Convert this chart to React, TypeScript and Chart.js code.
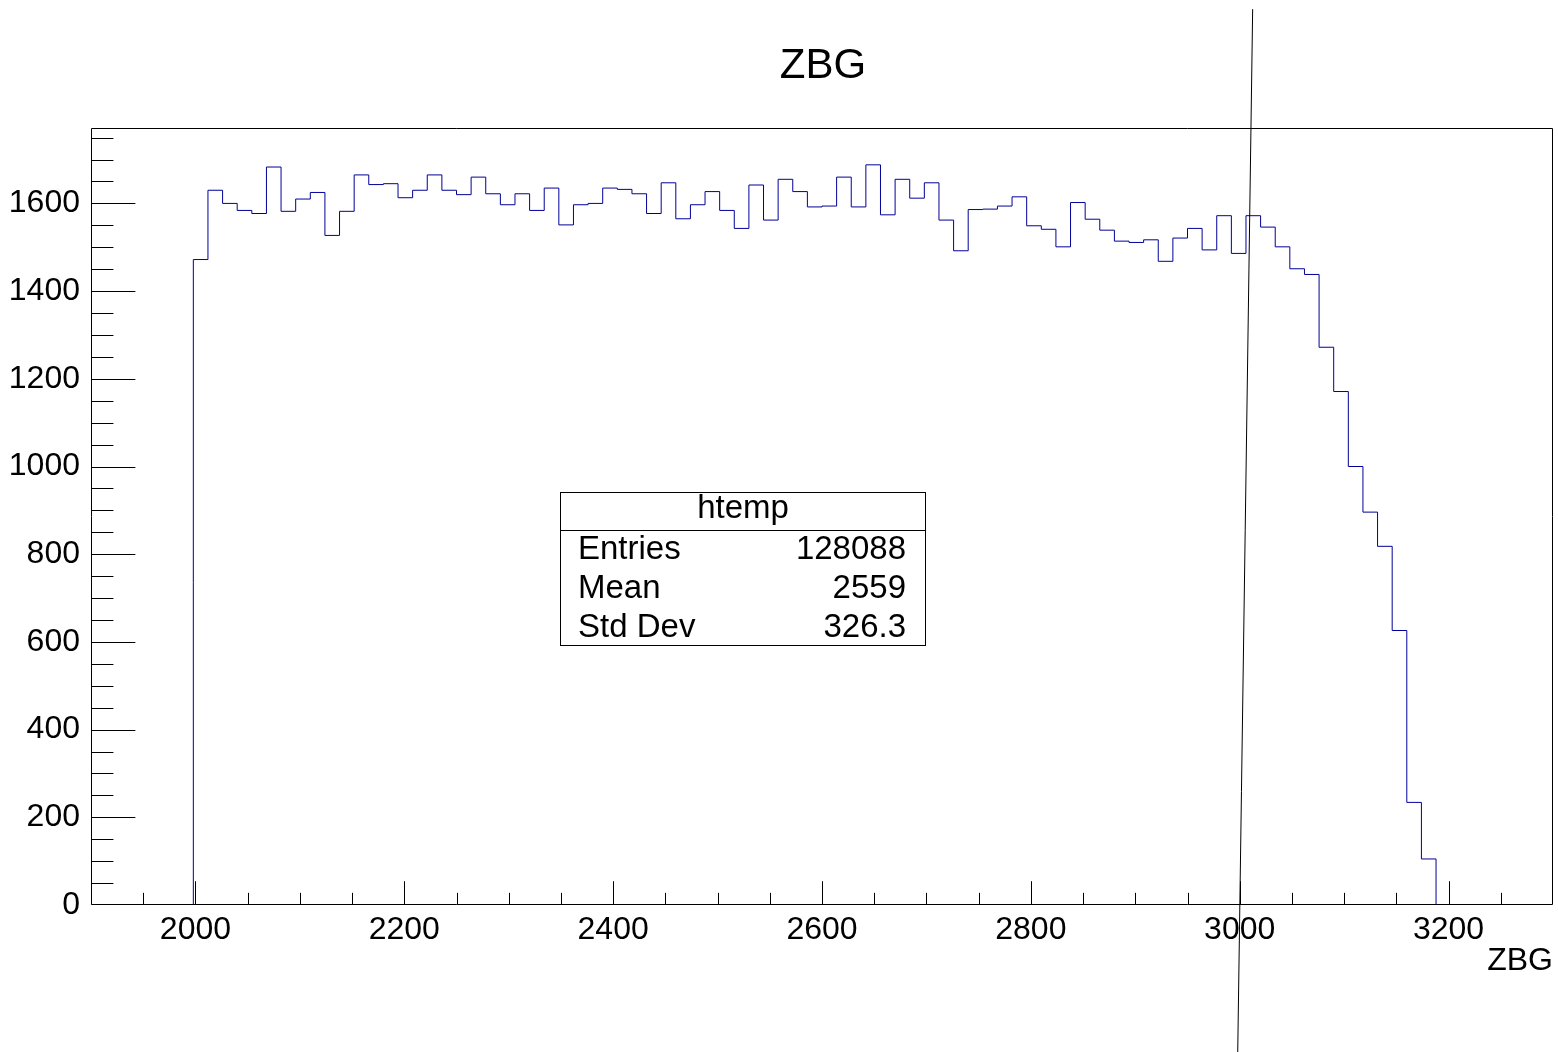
import React, { useEffect, useRef } from "react";
import { Chart, registerables } from "chart.js";

Chart.register(...registerables);

// ---- data ----
const histTitle = "ZBG";
const xAxisTitle = "ZBG";
const statsName = "htemp";
const statsLabels = ["Entries", "Mean", "Std Dev"];
const statsValues = ["128088", "2559", "326.3"];

const xMin = 1900;
const xMax = 3300;
const binWidth = 14;
const yMax = 1772;

const zbgCounts = [
  0, 0, 0, 0, 0, 0, 0,
  1472, 1630, 1600, 1584, 1577, 1683, 1582, 1610, 1625, 1527,
  1582, 1665, 1643, 1645, 1613, 1630, 1665, 1630, 1620, 1660,
  1622, 1597, 1622, 1584, 1635, 1551, 1597, 1600, 1635, 1632,
  1622, 1577, 1647, 1565, 1597, 1627, 1584, 1543, 1642, 1562,
  1655, 1627, 1592, 1594, 1660, 1592, 1688, 1574, 1655, 1612,
  1647, 1562, 1492, 1586, 1587, 1594, 1615, 1549, 1541, 1501,
  1602, 1564, 1539, 1514, 1511, 1517, 1468, 1521, 1543, 1494,
  1572, 1486, 1572, 1546, 1501, 1451, 1438,
  1272, 1171, 1000, 896, 818, 626, 234, 105,
  0, 0, 0, 0, 0, 0, 0, 0,
];

const xTickValues = [2000, 2200, 2400, 2600, 2800, 3000, 3200];
const yTickValues = [0, 200, 400, 600, 800, 1000, 1200, 1400, 1600];
const xMinorStep = 50;
const yMinorStep = 50;
const majorStep = 200;

// slanted cut line (data coordinates of its two ends)
const cutLineX = [3012.4, 2998.1];
const cutLineY = [2043, -336];

const FONT = "'Liberation Sans', Arial, Helvetica, sans-serif";
const HIST_COLOR = "#000099";

const rootPlugin = {
  id: "rootStyle",
  afterDatasetsDraw(chart: any) {
    const { ctx, chartArea: a, scales } = chart;
    const xs = scales.x;
    const ys = scales.y;
    ctx.save();
    ctx.strokeStyle = "#000";
    ctx.lineWidth = 1;
    const L = Math.round(a.left) + 0.5;
    const R = Math.round(a.right) - 0.5;
    const T = Math.round(a.top) + 0.5;
    const B = Math.round(a.bottom) - 0.5;
    ctx.beginPath();
    ctx.rect(L, T, R - L, B - T);
    ctx.stroke();

    const xMajorLen = 0.03 * (a.bottom - a.top);
    const yMajorLen = 0.03 * (a.right - a.left);
    ctx.beginPath();
    for (let v = xMin; v <= xMax + 1e-6; v += xMinorStep) {
      const px = Math.round(xs.getPixelForValue(v)) + 0.5;
      if (px <= L + 1 || px >= R - 1) continue;
      const len = v % majorStep === 0 ? xMajorLen : xMajorLen / 2;
      ctx.moveTo(px, B);
      ctx.lineTo(px, B - len);
    }
    for (let v = 0; v <= yMax + 1e-6; v += yMinorStep) {
      const py = Math.min(B, Math.round(ys.getPixelForValue(v)) + 0.5);
      if (py <= T + 1) continue;
      const len = v % majorStep === 0 ? yMajorLen : yMajorLen / 2;
      ctx.moveTo(L, py);
      ctx.lineTo(L + len, py);
    }
    ctx.stroke();
    ctx.restore();
  },
  afterDraw(chart: any) {
    const { ctx, chartArea: a, scales } = chart;
    const xs = scales.x;
    const ys = scales.y;
    ctx.save();

    // cut line
    ctx.strokeStyle = "#000";
    ctx.lineWidth = 1;
    ctx.beginPath();
    ctx.moveTo(xs.getPixelForValue(cutLineX[0]), ys.getPixelForValue(cutLineY[0]));
    ctx.lineTo(xs.getPixelForValue(cutLineX[1]), ys.getPixelForValue(cutLineY[1]));
    ctx.stroke();

    // title
    ctx.fillStyle = "#000";
    ctx.textBaseline = "middle";
    ctx.textAlign = "center";
    ctx.font = `42px ${FONT}`;
    ctx.fillText(histTitle, 823, 66);

    // x axis title
    ctx.textAlign = "right";
    ctx.font = `32px ${FONT}`;
    ctx.fillText(xAxisTitle, a.right, 961);

    // stats box
    const bx = 560.5, by = 492.5, bw = 365, bh = 153;
    ctx.fillStyle = "#fff";
    ctx.fillRect(bx, by, bw, bh);
    ctx.strokeStyle = "#000";
    ctx.strokeRect(bx, by, bw, bh);
    ctx.beginPath();
    ctx.moveTo(bx, 530.5);
    ctx.lineTo(bx + bw, 530.5);
    ctx.stroke();
    ctx.fillStyle = "#000";
    ctx.font = `33px ${FONT}`;
    ctx.textAlign = "center";
    ctx.fillText(statsName, bx + bw / 2, 509);
    const rowsY = [550, 589, 628];
    statsLabels.forEach((lab, i) => {
      ctx.textAlign = "left";
      ctx.fillText(lab, 578, rowsY[i]);
      ctx.textAlign = "right";
      ctx.fillText(statsValues[i], 906, rowsY[i]);
    });
    ctx.restore();
  },
};

export default function App() {
  const canvasRef = useRef<HTMLCanvasElement | null>(null);

  useEffect(() => {
    document.body.style.margin = "0";
    const canvas = canvasRef.current;
    if (!canvas) return;

    let first = 0;
    while (first < zbgCounts.length && zbgCounts[first] === 0) first++;
    let last = zbgCounts.length - 1;
    while (last > first && zbgCounts[last] === 0) last--;
    const points: { x: number; y: number }[] = [{ x: xMin + first * binWidth, y: 0 }];
    for (let i = first; i <= last; i++) points.push({ x: xMin + i * binWidth, y: zbgCounts[i] });
    points.push({ x: xMin + (last + 1) * binWidth, y: 0 });

    const chart = new Chart(canvas, {
      type: "line",
      data: {
        datasets: [
          {
            data: points,
            borderColor: HIST_COLOR,
            borderWidth: 1,
            pointRadius: 0,
            fill: false,
            stepped: "before",
            tension: 0,
          },
        ],
      },
      options: {
        responsive: false,
        animation: false,
        devicePixelRatio: 1,
        layout: { padding: { top: 128, right: 5, left: 0, bottom: 0 } },
        plugins: {
          legend: { display: false },
          tooltip: { enabled: false },
          title: { display: false },
        },
        scales: {
          x: {
            type: "linear",
            min: xMin,
            max: xMax,
            afterBuildTicks: (s: any) => {
              s.ticks = xTickValues.map((v) => ({ value: v }));
            },
            afterFit: (s: any) => {
              s.height = 147;
            },
            grid: { display: false, drawTicks: false },
            border: { display: false },
            ticks: {
              autoSkip: false,
              maxRotation: 0,
              minRotation: 0,
              padding: 6,
              color: "#000",
              font: { family: FONT, size: 32 },
              callback: (v: any) => String(v),
            },
          },
          y: {
            type: "linear",
            min: 0,
            max: yMax,
            afterBuildTicks: (s: any) => {
              s.ticks = yTickValues.map((v) => ({ value: v }));
            },
            afterFit: (s: any) => {
              s.width = 91;
            },
            grid: { display: false, drawTicks: false },
            border: { display: false },
            ticks: {
              autoSkip: false,
              padding: 11,
              color: "#000",
              font: { family: FONT, size: 32 },
              callback: (v: any) => String(v),
            },
          },
        },
      },
      plugins: [rootPlugin],
    });

    return () => chart.destroy();
  }, []);

  return (
    <div style={{ position: "absolute", left: 0, top: 0, width: 1558, height: 1052, background: "#fff" }}>
      <canvas ref={canvasRef} width={1558} height={1052} />
    </div>
  );
}
